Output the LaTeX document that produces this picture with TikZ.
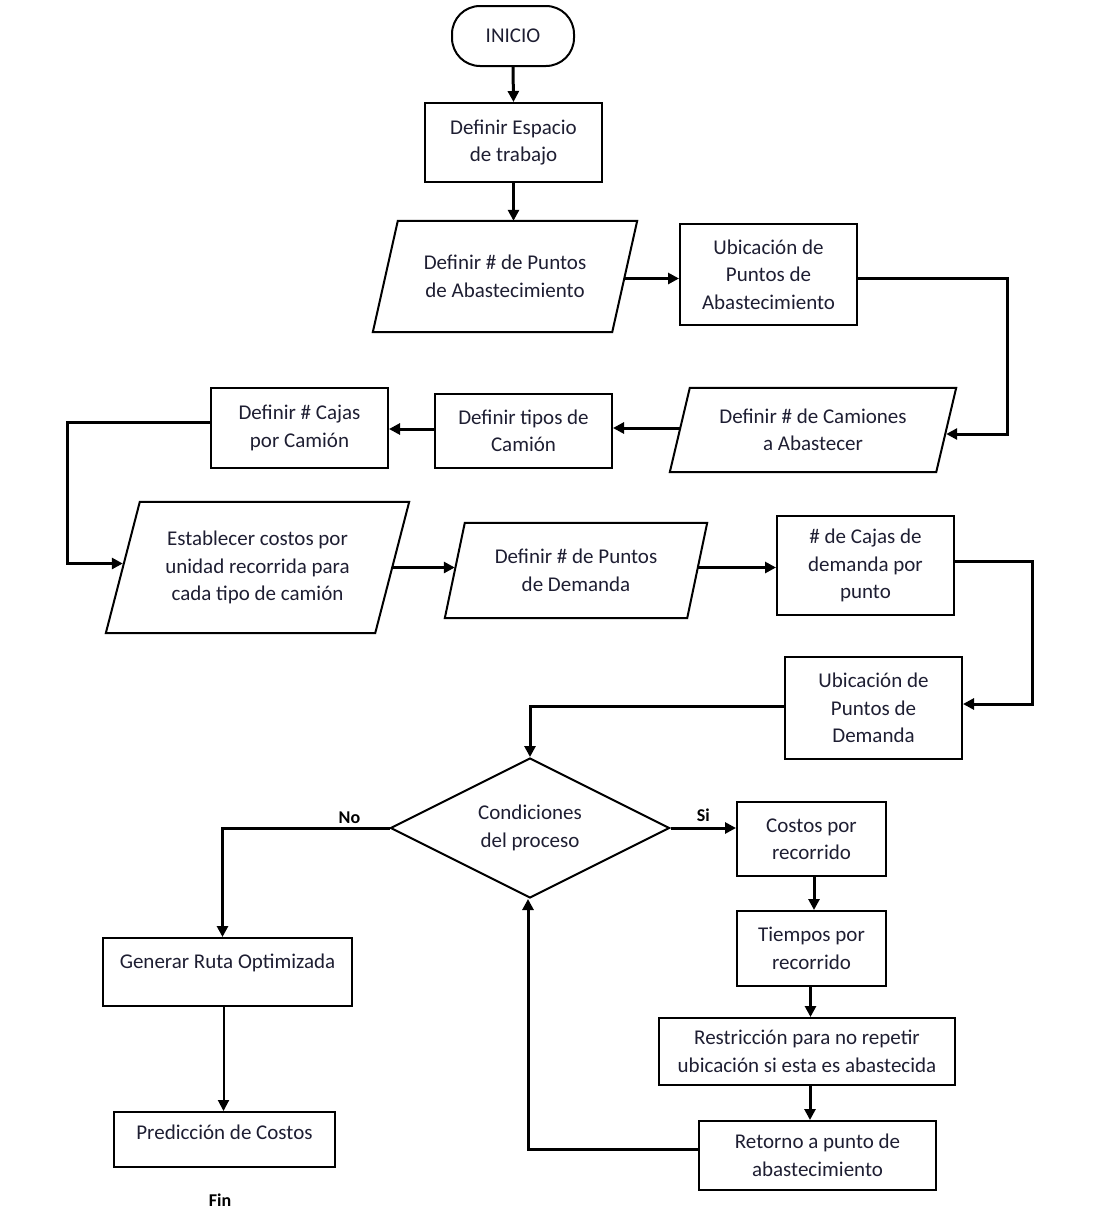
\documentclass[tikz,border=0pt]{standalone}
\usepackage{fontspec}
\setmainfont{Carlito}
\usetikzlibrary{arrows.meta,shapes.geometric}
\definecolor{txtc}{RGB}{30,30,50}
\newcommand{\drawpara}[2]{\draw[shp] ([xshift=#2]#1.north west) -- ([xshift=#2]#1.north east) -- ([xshift=-#2]#1.south east) -- ([xshift=-#2]#1.south west) -- cycle;}
\begin{document}
\begin{tikzpicture}[x=1pt,y=-1pt,
  every node/.style={font=\fontsize{21}{27.5}\selectfont, text=txtc, align=center, inner sep=0pt},
  shp/.style={draw=black, line width=2pt, line join=miter},
  boxn/.style={shp, rectangle},
  paran/.style={rectangle, draw=none},
  arr/.style={draw=black, line width=3pt, -{Triangle[length=11pt,width=11pt]}},
  arrthin/.style={draw=black, line width=2pt, -{Triangle[length=11pt,width=11pt]}},
  lbl/.style={font=\fontsize{18}{20}\selectfont\bfseries, text=black}
]
\useasboundingbox (0,0) rectangle (1100,1226);

% nodes
\node[shp, rectangle, rounded corners=28pt, minimum width=122pt, minimum height=60pt] (ini) at (513,36) {INICIO};
\node[boxn, minimum width=177pt, minimum height=79pt] (esp) at (513.5,142.5) {Definir Espacio\\de trabajo};
\node[paran, minimum width=239pt, minimum height=111pt] (pa) at (505,276.5) {Definir \# de Puntos\\de Abastecimiento};
\drawpara{pa}{12.5pt}
\node[boxn, minimum width=177pt, minimum height=101pt] (ub) at (768.5,274.5) {Ubicación de\\Puntos de\\Abastecimiento};
\node[paran, minimum width=266pt, minimum height=84pt] (cam) at (813,430) {Definir \# de Camiones\\a Abastecer};
\drawpara{cam}{10pt}
\node[boxn, minimum width=177pt, minimum height=74pt] (tip) at (523.5,431) {Definir tipos de\\Camión};
\node[boxn, minimum width=177pt, minimum height=80pt] (caj) at (299.5,428) {Definir \# Cajas\\por Camión};
\node[paran, minimum width=269pt, minimum height=131pt] (est) at (257.5,567.5) {Establecer costos por\\unidad recorrida para\\cada tipo de camión};
\drawpara{est}{17pt}
\node[paran, minimum width=242pt, minimum height=95pt] (dem) at (576,570.5) {Definir \# de Puntos\\de Demanda};
\drawpara{dem}{10pt}
\node[boxn, minimum width=177pt, minimum height=99pt] (cd) at (865.5,565.5) {\# de Cajas de\\demanda por\\punto};
\node[boxn, minimum width=177pt, minimum height=102pt] (ud) at (873.5,708) {Ubicación de\\Puntos de\\Demanda};
\node[shp, diamond, aspect=2, minimum width=279pt, minimum height=140pt] (dia) at (530,828) {Condiciones\\del proceso};
\node[boxn, minimum width=149pt, minimum height=74pt] (cos) at (811.5,839) {Costos por\\recorrido};
\node[boxn, minimum width=149pt, minimum height=75pt] (tie) at (811.5,948.5) {Tiempos por\\recorrido};
\node[boxn, minimum width=296pt, minimum height=67pt] (res) at (807,1051.5) {Restricción para no repetir\\ubicación si esta es abastecida};
\node[boxn, minimum width=237pt, minimum height=69pt] (ret) at (817.5,1155.5) {Retorno a punto de\\abastecimiento};
\node[boxn, minimum width=249pt, minimum height=68pt, text depth=21pt] (gen) at (227.5,972) {Generar Ruta Optimizada};
\node[boxn, minimum width=221pt, minimum height=55pt, text depth=15pt] (pre) at (224.5,1139.5) {Predicción de Costos};
\node[lbl] (fin) at (220,1200) {Fin};

% connectors
\draw[arr] (ini.south) -- (esp.north);
\draw[arr] (esp.south) -- (esp.south |- pa.north);
\draw[arr] ([yshift=-2pt]pa.east) -- ([yshift=-2pt]pa.east -| ub.west);
\draw[arr] ([yshift=-4pt]ub.east) -- ++(149,0) |- ([yshift=-4pt]cam.east);
\draw[arr] ([yshift=2pt]cam.west) -- ([yshift=2pt]cam.west -| tip.east);
\draw[arr] ([yshift=2pt]tip.west) -- ([yshift=2pt]tip.west -| caj.east);
\draw[arr] ([yshift=6pt]caj.west) -- ++(-143,0) |- ([yshift=4pt]est.west);
\draw[arr] (est.east) -- (est.east -| dem.west);
\draw[arr] ([yshift=3pt]dem.east) -- ([yshift=3pt]dem.east -| cd.west);
\draw[arr] ([yshift=4pt]cd.east) -- ++(77,0) |- ([yshift=4pt]ud.east);
\draw[arr] ([yshift=2pt]ud.west) -| (dia.north);
\draw[arr] (dia.west) -| ([xshift=-5pt]gen.north) node[pos=0.12, above=3pt, lbl] (no) {No};
\draw[arr] (dia.east) -- (dia.east -| cos.west) node[pos=0.5, above=5pt, lbl] (si) {Si};
\draw[arr] ([xshift=2.5pt]cos.south) -- ([xshift=2.5pt]cos.south |- tie.north);
\draw[arr] ([xshift=-1pt]tie.south) -- ([xshift=-1pt]tie.south |- res.north);
\draw[arr] ([xshift=3pt]res.south) -- ([xshift=3pt]res.south |- ret.north);
\draw[arr] ([yshift=6pt]ret.west) -| ([xshift=-2pt]dia.south);
\draw[arrthin] ([xshift=-4pt]gen.south) -- ([xshift=-4pt]gen.south |- pre.north);
\end{tikzpicture}
\end{document}
